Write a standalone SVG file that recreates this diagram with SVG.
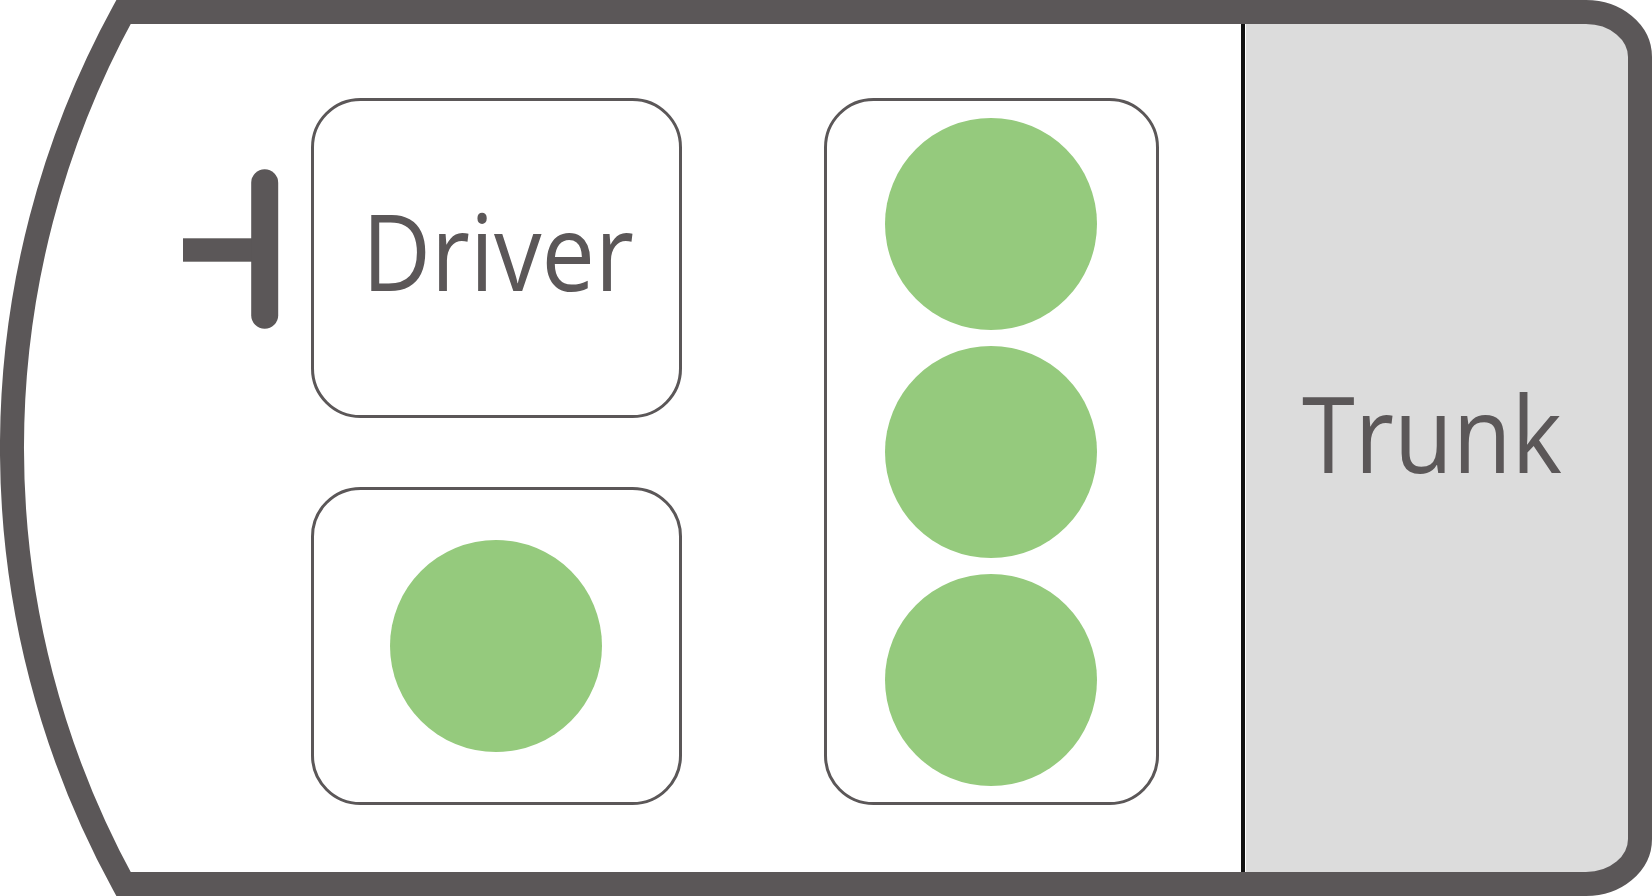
<svg xmlns="http://www.w3.org/2000/svg" width="1652" height="896" viewBox="0 0 1652 896">
<style>
.box{fill:#ffffff;stroke:#5b5758;stroke-width:3}
.seat{fill:#95ca7d}
.lbl{font-family:"Open Sans","Liberation Sans",sans-serif;font-size:107px;fill:#5b5758}
</style>
<rect width="1652" height="896" fill="#ffffff"/>
<g id="car">
<path d="M1246 12 H1586 A54 45 0 0 1 1640 57 V839 A54 45 0 0 1 1586 884 H1246 Z" fill="#dcdcdc"/>
<line x1="1243" y1="24" x2="1243" y2="872" stroke="#111111" stroke-width="4"/>
<path d="M123.5 12 H1586 A54 45 0 0 1 1640 57 V839 A54 45 0 0 1 1586 884 H123.5 A908 908 0 0 1 123.5 12 Z" fill="none" stroke="#5b5758" stroke-width="24" stroke-linejoin="miter"/>
</g>
<g id="steering">
<rect x="183" y="238.3" width="70" height="23.4" fill="#5b5758"/>
<line x1="264.7" y1="182.7" x2="264.7" y2="315.3" stroke="#5b5758" stroke-width="27" stroke-linecap="round"/>
</g>
<g id="driver">
<rect class="box" x="312.5" y="99.5" width="368" height="317" rx="48" ry="48"/>
<text class="lbl" x="498" y="291" text-anchor="middle" textLength="272" lengthAdjust="spacingAndGlyphs">Driver</text>
</g>
<g id="front-passenger">
<rect class="box" x="312.5" y="488.5" width="368" height="315" rx="48" ry="48"/>
<circle class="seat" cx="496" cy="646" r="106"/>
</g>
<g id="rear-seats">
<rect class="box" x="825.5" y="99.5" width="332" height="704" rx="48" ry="48"/>
<circle class="seat" cx="991" cy="224" r="106"/>
<circle class="seat" cx="991" cy="452" r="106"/>
<circle class="seat" cx="991" cy="680" r="106"/>
</g>
<g id="trunk">
<text class="lbl" x="1432" y="472.7" text-anchor="middle" textLength="260" lengthAdjust="spacingAndGlyphs">Trunk</text>
</g>
<g id="connectors"></g>
</svg>
